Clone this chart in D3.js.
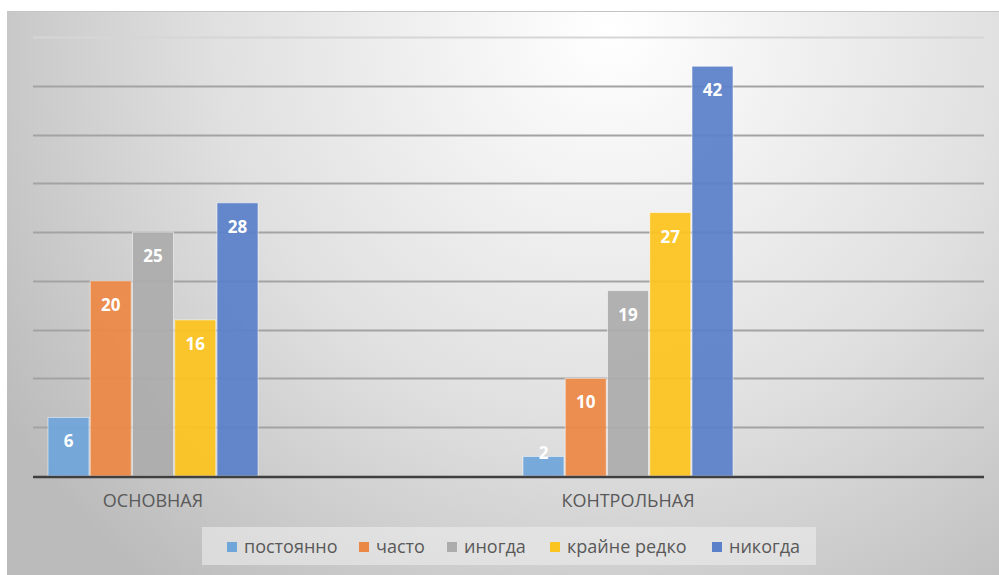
<!DOCTYPE html>
<html>
<head>
<meta charset="utf-8">
<script src="https://cdn.jsdelivr.net/npm/d3@7"></script>
<style>
  body { margin: 0; background: #fff; }
  svg { display: block; font-family: "Open Sans", "DejaVu Sans", sans-serif; }
</style>
</head>
<body>
<svg width="999" height="575"></svg>
<script>
var categories = ['ОСНОВНАЯ', 'КОНТРОЛЬНАЯ'];
var seriesNames = ['постоянно', 'часто', 'иногда', 'крайне редко', 'никогда'];
var seriesColors = ['#6fa5d9', '#ec8845', '#acacac', '#fcc41e', '#5a80c9'];
var osnovnaya = [6, 20, 25, 16, 28];
var kontrolnaya = [2, 10, 19, 27, 42];
var yTicks = [5, 10, 15, 20, 25, 30, 35, 40, 45];

var svg = d3.select('svg'),
    plotLeft = 33, plotRight = 984,
    baseY = 476, topY = 37;

var values = [osnovnaya, kontrolnaya];
var data = [];
categories.forEach(function(c, i) {
  seriesNames.forEach(function(s, j) {
    data.push({cat: c, series: s, value: values[i][j]});
  });
});

var defs = svg.append('defs');
var grad = defs.append('radialGradient')
    .attr('id', 'bg')
    .attr('gradientUnits', 'userSpaceOnUse')
    .attr('cx', 610).attr('cy', 30).attr('r', 720);
grad.append('stop').attr('offset', '0').attr('stop-color', '#ffffff');
grad.append('stop').attr('offset', '0.55').attr('stop-color', '#e0e0e0');
grad.append('stop').attr('offset', '1').attr('stop-color', '#bbbbbb');

svg.append('rect')
    .attr('x', 7).attr('y', 11)
    .attr('width', 992).attr('height', 564)
    .attr('fill', 'url(#bg)');
svg.append('line')
    .attr('x1', 7).attr('x2', 999).attr('y1', 11.5).attr('y2', 11.5)
    .attr('stroke', '#c4c4c4').attr('stroke-width', 1);

var y = d3.scaleLinear().domain([0, 45]).range([baseY, topY]);

var x0 = d3.scaleBand().domain(categories).range([48, 998]);
var x1 = d3.scaleBand().domain(seriesNames).range([0, 210]).paddingInner(0.03);
var color = d3.scaleOrdinal().domain(seriesNames).range(seriesColors);

// gridlines
svg.append('g').selectAll('line')
  .data(yTicks)
  .enter().append('line')
    .attr('x1', plotLeft).attr('x2', plotRight)
    .attr('y1', function(d) { return Math.round(y(d)) + 0.5; })
    .attr('y2', function(d) { return Math.round(y(d)) + 0.5; })
    .attr('stroke', function(d) { return d === 45 ? '#d6d6d6' : '#a3a3a3'; })
    .attr('stroke-width', 2);

// bars
svg.append('g').selectAll('rect')
  .data(data)
  .enter().append('rect')
    .attr('x', function(d) { return x0(d.cat) + x1(d.series); })
    .attr('y', function(d) { return y(d.value); })
    .attr('width', x1.bandwidth())
    .attr('height', function(d) { return baseY - y(d.value); })
    .attr('fill', function(d) { return color(d.series); })
    .attr('fill-opacity', 0.93)
    .attr('stroke', '#ffffff')
    .attr('stroke-opacity', 0.5)
    .attr('stroke-width', 1);

// value labels
svg.append('g').selectAll('text')
  .data(data)
  .enter().append('text')
    .attr('x', function(d) { return x0(d.cat) + x1(d.series) + x1.bandwidth() / 2; })
    .attr('y', function(d) { return Math.min(y(d.value) + 24, baseY - 23); })
    .attr('dy', '0.35em')
    .attr('text-anchor', 'middle')
    .attr('fill', '#ffffff')
    .attr('font-weight', 'bold')
    .attr('font-size', '17px')
    .text(function(d) { return d.value; });

// x axis line
svg.append('line')
    .attr('x1', plotLeft).attr('x2', plotRight)
    .attr('y1', baseY + 1).attr('y2', baseY + 1)
    .attr('stroke', '#3f3f3f').attr('stroke-width', 2.5);

// category labels
svg.append('g').selectAll('text')
  .data(categories)
  .enter().append('text')
    .attr('x', function(d) { return x0(d) + 105; })
    .attr('y', 501)
    .attr('dy', '0.35em')
    .attr('text-anchor', 'middle')
    .attr('fill', '#595959')
    .attr('font-size', '18px')
    .text(function(d) { return d; });

// legend
svg.append('rect')
    .attr('x', 202).attr('y', 527)
    .attr('width', 614).attr('height', 38)
    .attr('fill', '#ececec').attr('fill-opacity', 0.6);

var legendX = [227, 359, 447, 550, 712];
var legend = svg.append('g').selectAll('g')
  .data(seriesNames)
  .enter().append('g')
    .attr('transform', function(d, i) { return 'translate(' + legendX[i] + ',542)'; });
legend.append('rect')
    .attr('width', 10).attr('height', 10)
    .attr('fill', function(d) { return color(d); });
legend.append('text')
    .attr('x', 17).attr('y', 5)
    .attr('dy', '0.35em')
    .attr('fill', '#595959')
    .attr('font-size', '18px')
    .text(function(d) { return d; });
</script>
</body>
</html>
